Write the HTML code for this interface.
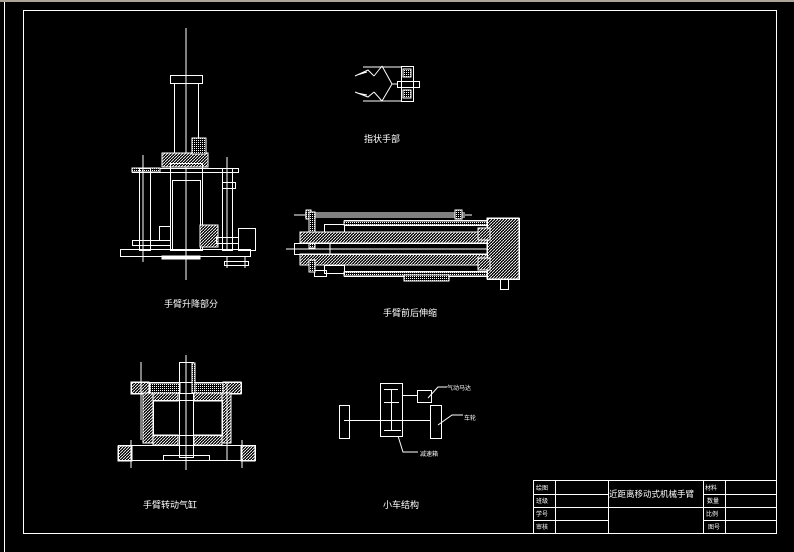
<!DOCTYPE html>
<html><head><meta charset="utf-8"><style>
html,body{margin:0;padding:0;background:#000;width:794px;height:552px;overflow:hidden}
svg{display:block}
text{font-family:"Liberation Sans","Noto Sans CJK SC",sans-serif;fill:#fff}
</style></head><body>
<svg width="794" height="552" viewBox="0 0 794 552" xmlns="http://www.w3.org/2000/svg">
<defs>
<pattern id="h" width="3" height="3" patternUnits="userSpaceOnUse"><rect width="3" height="3" fill="#000"/><path d="M0 3L3 0" stroke="#fff" stroke-width="0.9"/></pattern>
<pattern id="d" width="2" height="2" patternUnits="userSpaceOnUse"><rect width="2" height="2" fill="#000"/><rect width="1" height="1" fill="#fff"/></pattern>
</defs>
<rect x="0" y="0" width="794" height="2" fill="#aaa598"/>
<line x1="4.5" y1="2" x2="4.5" y2="552" stroke="#fff"/>
<g fill="none" stroke="#fff" stroke-width="1">
<rect x="23.5" y="10.5" width="753" height="523"/>
<!-- title block -->
<rect x="533.5" y="480.5" width="243" height="53"/>
<line x1="533" y1="494.5" x2="608" y2="494.5"/><line x1="533" y1="507.5" x2="608" y2="507.5"/><line x1="533" y1="520.5" x2="608" y2="520.5"/>
<line x1="703" y1="494.5" x2="777" y2="494.5"/><line x1="703" y1="507.5" x2="777" y2="507.5"/><line x1="703" y1="520.5" x2="777" y2="520.5"/>
<line x1="608" y1="507.5" x2="703" y2="507.5"/>
<line x1="555.5" y1="480" x2="555.5" y2="534"/><line x1="608.5" y1="480" x2="608.5" y2="534"/><line x1="703.5" y1="480" x2="703.5" y2="534"/><line x1="725.5" y1="480" x2="725.5" y2="534"/>

<!-- lift section -->
<line x1="186" y1="28" x2="186" y2="280"/>
<rect x="170.5" y="75.5" width="32" height="8"/>
<rect x="174.5" y="83.5" width="24" height="72"/>
<rect x="162" y="153" width="46" height="14" fill="url(#h)"/>
<rect x="192" y="138" width="14" height="16" fill="url(#d)"/>
<rect x="132.5" y="168.5" width="106" height="4"/>
<rect x="132" y="168" width="28" height="4" fill="url(#d)"/>
<rect x="170.5" y="163.5" width="32" height="87"/>
<rect x="172.5" y="180.5" width="28" height="70"/>
<rect x="139.5" y="168.5" width="11" height="82"/>
<line x1="143" y1="155" x2="143" y2="262"/>
<rect x="159.5" y="226.5" width="11" height="14"/>
<rect x="132.5" y="240.5" width="38" height="5"/>
<rect x="222.5" y="168.5" width="10" height="82"/>
<line x1="227" y1="157" x2="227" y2="250"/>
<rect x="222.5" y="182.5" width="13" height="6"/>
<rect x="200" y="225" width="18" height="22" fill="url(#h)"/>
<rect x="216.5" y="237.5" width="22" height="6"/>
<rect x="238.5" y="228.5" width="17" height="22"/>
<rect x="120.5" y="249.5" width="130" height="7"/>
<rect x="162" y="256" width="38" height="3" fill="#fff"/>
<rect x="224.5" y="261.5" width="24" height="4"/>
<line x1="227" y1="256" x2="227" y2="268"/><line x1="245" y1="256" x2="245" y2="268"/>

<!-- gripper -->
<rect x="401.5" y="66.5" width="12" height="35"/>
<rect x="397.5" y="81.5" width="22" height="6"/>
<rect x="403" y="69" width="8" height="8" fill="url(#d)"/>
<rect x="403" y="90" width="8" height="8" fill="url(#d)"/>
<line x1="363" y1="67" x2="401" y2="67"/><line x1="363" y1="101" x2="401" y2="101"/>
<path d="M382 66L392 84L382 101M392 84L398 84"/>
<path d="M355 76L368 70L374 76M357 75L367 72M355 92L368 97L374 92M357 93L367 95"/>
<path d="M374 76L382 66M374 92L382 101"/>

<!-- extension cylinder -->
<line x1="294" y1="215" x2="472" y2="215"/>
<line x1="305" y1="213" x2="465" y2="213"/><line x1="305" y1="217" x2="465" y2="217"/>
<rect x="306" y="210" width="5" height="9" fill="url(#d)"/>
<rect x="455" y="210" width="7" height="9" fill="url(#d)"/>
<rect x="309" y="212" width="6" height="36" fill="url(#d)"/>
<rect x="344.5" y="220.5" width="145" height="5"/>
<rect x="344" y="221" width="145" height="4" fill="url(#d)"/>
<rect x="324.5" y="224.5" width="20" height="8"/>
<rect x="300" y="232" width="192" height="11" fill="url(#h)"/>
<rect x="300" y="254" width="192" height="11" fill="url(#h)"/>
<rect x="294.5" y="243.5" width="225" height="11"/>
<line x1="286" y1="249" x2="520" y2="249"/>
<line x1="330" y1="243" x2="330" y2="254"/>
<rect x="344.5" y="271.5" width="145" height="5"/>
<rect x="344" y="272" width="145" height="4" fill="url(#d)"/>
<rect x="404" y="275" width="45" height="6" fill="url(#d)"/>
<rect x="324.5" y="265.5" width="20" height="8"/>
<rect x="314.5" y="270.5" width="12" height="6"/>
<rect x="309" y="260" width="6" height="12" fill="url(#d)"/>
<rect x="487" y="218" width="32" height="61" fill="url(#h)"/>
<rect x="487.5" y="218.5" width="32" height="61"/>
<rect x="478" y="228" width="12" height="12" fill="url(#h)"/>
<rect x="478" y="258" width="12" height="12" fill="url(#h)"/>
<rect x="500.5" y="279.5" width="8" height="10"/>

<!-- rotary cylinder -->
<line x1="186" y1="355" x2="186" y2="470"/>
<rect x="131" y="382" width="18" height="12" fill="url(#h)"/>
<rect x="223" y="382" width="18" height="12" fill="url(#h)"/>
<rect x="131.5" y="382.5" width="110" height="11"/>
<rect x="150" y="383" width="30" height="10" fill="url(#d)"/>
<rect x="193" y="383" width="30" height="10" fill="url(#d)"/>
<rect x="143" y="393" width="10" height="50" fill="url(#h)"/>
<rect x="222" y="393" width="9" height="50" fill="url(#h)"/>
<rect x="153" y="393" width="25" height="8" fill="url(#h)"/>
<rect x="194" y="393" width="28" height="8" fill="url(#h)"/>
<rect x="153" y="435" width="25" height="10" fill="url(#h)"/>
<rect x="194" y="435" width="28" height="10" fill="url(#h)"/>
<rect x="153.5" y="400.5" width="69" height="35"/>
<rect x="118" y="446" width="14" height="15" fill="url(#h)"/>
<rect x="241" y="446" width="14" height="15" fill="url(#h)"/>
<rect x="118.5" y="445.5" width="137" height="15"/>
<rect x="179.5" y="362.5" width="14" height="95"/>
<rect x="192" y="363" width="3" height="30" fill="url(#d)"/>
<rect x="163.5" y="455.5" width="46" height="5"/>
<line x1="141" y1="362" x2="141" y2="440"/><line x1="227" y1="382" x2="227" y2="460"/>
<line x1="131" y1="440" x2="131" y2="468"/><line x1="242" y1="440" x2="242" y2="468"/>

<!-- cart -->
<rect x="339.5" y="405.5" width="10" height="33"/>
<rect x="380.5" y="383.5" width="22" height="53"/>
<rect x="417.5" y="390.5" width="14" height="12"/>
<rect x="430.5" y="405.5" width="11" height="33"/>
<line x1="344" y1="420.5" x2="430" y2="420.5"/>
<line x1="391.5" y1="390" x2="391.5" y2="430"/>
<line x1="384" y1="389.5" x2="398" y2="389.5"/><line x1="384" y1="402.5" x2="399" y2="402.5"/><line x1="384" y1="430.5" x2="401" y2="430.5"/>
<line x1="402" y1="395.5" x2="417" y2="395.5"/>
<path d="M428 398L438 387L447 387"/>
<path d="M438 425L452 415L463 415"/>
<path d="M398 436L403 452L418 452"/>
</g>
<g font-size="9">
<text x="164" y="307">手臂升降部分</text>
<text x="383" y="316">手臂前后伸缩</text>
<text x="143" y="508">手臂转动气缸</text>
<text x="383" y="508">小车结构</text>
<text x="364" y="142">指状手部</text>
</g>
<g font-size="6">
<text x="447" y="390">气动马达</text>
<text x="464" y="420">车轮</text>
<text x="420" y="456">减速箱</text>
<text x="536" y="490">绘图</text><text x="536" y="503">班级</text><text x="536" y="516">学号</text><text x="536" y="529">审核</text>
<text x="705" y="490">材料</text><text x="707" y="503">数量</text><text x="706" y="516">比例</text><text x="708" y="529">图号</text>
</g>
<text x="609" y="497" font-size="8.5">近距离移动式机械手臂</text>
</svg>
</body></html>
